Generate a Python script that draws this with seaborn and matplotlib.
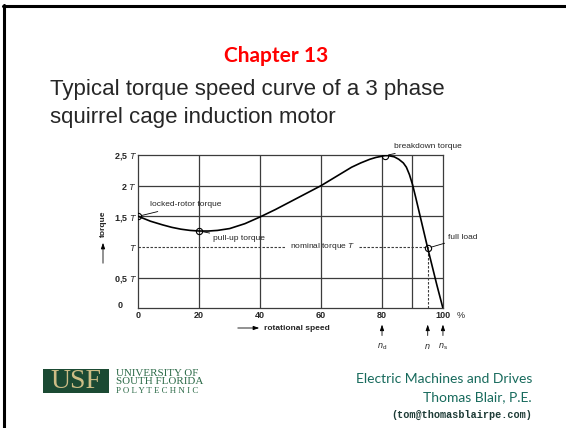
import matplotlib
matplotlib.use("Agg")
import matplotlib.pyplot as plt
import matplotlib.patches as mpatches
from matplotlib.lines import Line2D
import pandas as pd
import seaborn as sns

# torque speed curve (speed in % of n_s, torque in units of T)
speed = [0, 2, 4, 6, 8, 11, 14, 17, 20, 23, 26, 30, 35, 40, 45, 50, 55, 60, 63, 66,
         70, 73, 76, 78, 80, 81, 82, 84, 85.5, 87, 88, 89, 90, 91, 92, 93, 94, 95,
         96, 97, 98, 99, 100]
torque = [1.5, 1.46, 1.42, 1.39, 1.36, 1.32, 1.29, 1.27, 1.26, 1.26, 1.27, 1.30, 1.38,
          1.49, 1.61, 1.74, 1.87, 2.0, 2.09, 2.18, 2.30, 2.37, 2.43, 2.46, 2.48, 2.49,
          2.49, 2.47, 2.43, 2.37, 2.30, 2.18, 2.02, 1.82, 1.61, 1.40, 1.19, 0.98, 0.78,
          0.58, 0.38, 0.19, 0.0]

x_ticks = [0, 20, 40, 60, 80, 100]
x_labels = ["0", "20", "40", "60", "80", "100"]
y_ticks = [0.5, 1, 1.5, 2, 2.5]
y_labels = ["0,5 $T$", "$T$", "1,5 $T$", "2 $T$", "2,5 $T$"]
v_grid = [20, 40, 60, 80, 90]
h_grid = [0.5, 1.5, 2]

marked_speed = [0, 20, 81, 95]
marked_torque = [1.5, 1.26, 2.49, 0.98]
marked_labels = ["locked-rotor torque", "pull-up torque", "breakdown torque", "full load"]

nominal_torque = 1.0
full_load_speed = 95
speed_marks = [80, 95, 100]
speed_mark_labels = [r"$n_\mathrm{d}$", r"$n$", r"$n_\mathrm{s}$"]

W, H = 566, 428


def fp(x, y):
    # pixel position (from top left) to figure fraction
    return x / W, 1 - y / H


sns.set_style("white")
plt.rcParams["font.family"] = ["Liberation Sans", "DejaVu Sans"]
plt.rcParams["mathtext.fontset"] = "custom"
plt.rcParams["mathtext.it"] = "Liberation Sans:italic"
plt.rcParams["mathtext.rm"] = "Liberation Sans"

fig = plt.figure(figsize=(W / 100, H / 100), dpi=100)
fig.patch.set_facecolor("white")

# slide border (left and top)
fig.add_artist(Line2D([4 / W, 4 / W], [0, 1 - 5 / H], color="black", lw=2.2))
fig.add_artist(Line2D([3 / W, 1], [1 - 6 / H, 1 - 6 / H], color="black", lw=2.2))

ax = fig.add_axes([0.2443, 0.2797, 0.5383, 0.3582])
grid_c = "#3c3c3c"

for v in v_grid:
    ax.axvline(v, color=grid_c, lw=0.9, zorder=1)
for h in h_grid:
    ax.axhline(h, color=grid_c, lw=0.9, zorder=1)

# nominal torque line, dashed, broken for its label
dash = (0, (2.2, 1.4))
ax.plot([0, 48.5], [nominal_torque, nominal_torque], color=grid_c, lw=0.8, ls=dash)
ax.plot([72.5, full_load_speed], [nominal_torque, nominal_torque], color=grid_c, lw=0.8, ls=dash)
ax.plot([full_load_speed, full_load_speed], [0, nominal_torque], color=grid_c, lw=0.8, ls=dash)
ax.text(60.5, nominal_torque, "nominal torque $T$", ha="center", va="center", fontsize=6)

df = pd.DataFrame({"speed": speed, "torque": torque})
sns.lineplot(data=df, x="speed", y="torque", color="black", lw=1.2, ax=ax, zorder=3)

ax.plot(marked_speed, marked_torque, ls="none", marker="o", ms=4.5, mfc="none",
        mec="black", mew=0.8, zorder=4)
offsets = [(8.4, 8.3), (9.9, -5.6), (6.4, 6.4), (14.5, 7.4)]
for xs, ys, lab, off in zip(marked_speed, marked_torque, marked_labels, offsets):
    ax.annotate(lab, (xs, ys), xytext=off, textcoords="offset points",
                ha="left", va="center", fontsize=6,
                arrowprops=dict(arrowstyle="-", lw=0.6, color="black",
                                shrinkA=0, shrinkB=2.5))

ax.set_xlim(0, 100)
ax.set_ylim(0, 2.5)
ax.set_xticks(x_ticks)
ax.set_xticklabels(x_labels, fontsize=6.5, fontweight="bold")
ax.set_yticks(y_ticks)
ax.set_yticklabels(y_labels, fontsize=6.5, fontweight="bold")
ax.tick_params(length=0, pad=2)
ax.tick_params(axis="y", pad=1)
ax.set_xlabel("")
ax.set_ylabel("")
ax.annotate("0", (0, 0), xytext=(-11, 2), textcoords="offset points",
            ha="right", va="center", fontsize=6.5, fontweight="bold", annotation_clip=False)
ax.text(104.5, -0.11, "%", ha="left", va="center", fontsize=6.5, clip_on=False)
for sp in ax.spines.values():
    sp.set_color(grid_c)
    sp.set_linewidth(0.9)

# speed marks with arrows under the axis
for xs, lab in zip(speed_marks, speed_mark_labels):
    ax.annotate("", xy=(xs, -0.22), xytext=(xs, -0.49),
                arrowprops=dict(arrowstyle="-|>,head_length=0.35,head_width=0.12",
                                lw=0.6, color="black"), annotation_clip=False)
    ax.text(xs, -0.63, lab, ha="center", va="center", fontsize=6.5, clip_on=False)

# axis captions with arrows
ax.annotate("", xy=(103, H - 240), xytext=(103, H - 266), xycoords="figure pixels",
            arrowprops=dict(arrowstyle="-|>,head_length=0.35,head_width=0.12",
                            lw=0.6, color="black"))
fig.text(*fp(103, 224), "torque", rotation=90, ha="center", va="center", fontsize=6,
         fontweight="bold")
ax.annotate("", xy=(262, H - 328), xytext=(235, H - 328), xycoords="figure pixels",
            arrowprops=dict(arrowstyle="-|>,head_length=0.35,head_width=0.12",
                            lw=0.6, color="black"))
fig.text(*fp(264, 328), "rotational speed", ha="left", va="center", fontsize=6,
         fontweight="bold")

# slide texts
fig.text(*fp(276, 56), "Chapter 13", color="#ff0000", fontsize=15, fontweight="bold",
         ha="center", va="center", family=["Lato", "DejaVu Sans"])
fig.text(*fp(50, 90), "Typical torque speed curve of a 3 phase", fontsize=16,
         ha="left", va="center")
fig.text(*fp(50, 118), "squirrel cage induction motor", fontsize=16,
         ha="left", va="center")

teal = "#176a5c"
fig.text(*fp(532, 379), "Electric Machines and Drives", color=teal, fontsize=10,
         ha="right", va="center", family=["Lato", "DejaVu Sans"])
fig.text(*fp(532, 397), "Thomas Blair, P.E.", color=teal, fontsize=10,
         ha="right", va="center", family=["Lato", "DejaVu Sans"])
fig.text(*fp(532, 415), "(tom@thomasblairpe.com)", color="#1d3b36", fontsize=7.3,
         ha="right", va="center", fontweight="bold", family=["Liberation Mono", "DejaVu Sans Mono"])

# USF logo
x0, y0 = fp(43, 393)
fig.add_artist(mpatches.Rectangle((x0, y0), 66 / W, 24 / H, transform=fig.transFigure,
                                  facecolor="#1b4a33", edgecolor="none"))
fig.text(*fp(76, 382), "USF", color="#cdbd86", fontsize=20, ha="center", va="center",
         family=["Liberation Serif", "DejaVu Serif"])
logo_green = "#2b6a47"
fig.text(*fp(116, 373), "UNIVERSITY OF", color=logo_green, fontsize=7.9, ha="left",
         va="center", family=["Liberation Serif", "DejaVu Serif"])
fig.text(*fp(116, 382), "SOUTH FLORIDA", color=logo_green, fontsize=7.9, ha="left",
         va="center", family=["Liberation Serif", "DejaVu Serif"])
fig.text(*fp(116, 391), " ".join("POLYTECHNIC"), color=logo_green, fontsize=6.4,
         ha="left", va="center", family=["Liberation Serif", "DejaVu Serif"])

fig.savefig("out.png", dpi=100)
